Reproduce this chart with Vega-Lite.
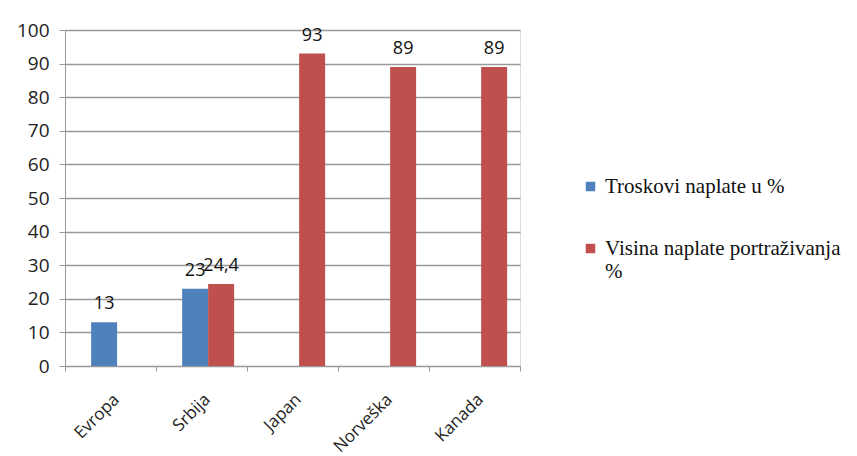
{
  "$schema": "https://vega.github.io/schema/vega-lite/v6.json",
  "autosize": {"type": "none"},
  "padding": {"left": 65, "top": 30, "right": 337, "bottom": 90},
  "width": 455,
  "height": 336,
  "background": "white",
  "data": {"values": [
    {"zemlja": "Evropa", "serija": "Troskovi naplate u %", "vrednost": 13, "oznaka": "13"},
    {"zemlja": "Srbija", "serija": "Troskovi naplate u %", "vrednost": 23, "oznaka": "23"},
    {"zemlja": "Srbija", "serija": "Visina naplate portraživanja %", "vrednost": 24.4, "oznaka": "24,4"},
    {"zemlja": "Japan", "serija": "Visina naplate portraživanja %", "vrednost": 93, "oznaka": "93"},
    {"zemlja": "Norveška", "serija": "Visina naplate portraživanja %", "vrednost": 89, "oznaka": "89"},
    {"zemlja": "Kanada", "serija": "Visina naplate portraživanja %", "vrednost": 89, "oznaka": "89"}
  ]},
  "encoding": {
    "x": {"field": "zemlja", "type": "nominal", "sort": ["Evropa", "Srbija", "Japan", "Norveška", "Kanada"],
      "scale": {"paddingInner": 0, "paddingOuter": 0},
      "axis": {"title": null, "labelAngle": -45, "labelFont": "Open Sans", "labelFontSize": 17, "labelColor": "#222", "domainColor": "#999", "tickColor": "#999", "tickBand": "extent", "labelPadding": 20}},
    "xOffset": {"field": "serija", "type": "nominal", "scale": {"paddingInner": 0, "paddingOuter": 0.75, "align": 0.67}},
    "y": {"field": "vrednost", "type": "quantitative", "scale": {"domain": [0, 100]},
      "axis": {"title": null, "values": [0,10,20,30,40,50,60,70,80,90,100], "labelOverlap": false, "labelFont": "Open Sans", "labelFontSize": 19, "labelColor": "#222", "domainColor": "#999", "tickColor": "#999", "tickSize": 6, "gridColor": "#999", "gridWidth": 1.5, "labelPadding": 10}}
  },
  "layer": [
    {
      "mark": {"type": "bar"},
      "encoding": {
        "color": {"field": "serija", "type": "nominal",
          "scale": {"domain": ["Troskovi naplate u %", "Visina naplate portraživanja %"], "range": ["#4F81BD", "#C0504D"]},
          "legend": {"title": null, "orient": "none", "legendX": 515, "legendY": 146, "symbolType": "square", "symbolSize": 90, "symbolStrokeWidth": 0, "labelFont": "Liberation Serif", "labelFontSize": 21, "labelColor": "#111", "rowPadding": 40, "labelLimit": 400, "labelOffset": 4,
            "labelExpr": "datum.label == 'Visina naplate portraživanja %' ? ['Visina naplate portraživanja', '%'] : datum.label"}
        }
      }
    },
    {
      "mark": {"type": "text", "dy": -18, "font": "Open Sans", "fontSize": 18, "color": "#111"},
      "encoding": {"text": {"field": "oznaka"}}
    }
  ]
}
